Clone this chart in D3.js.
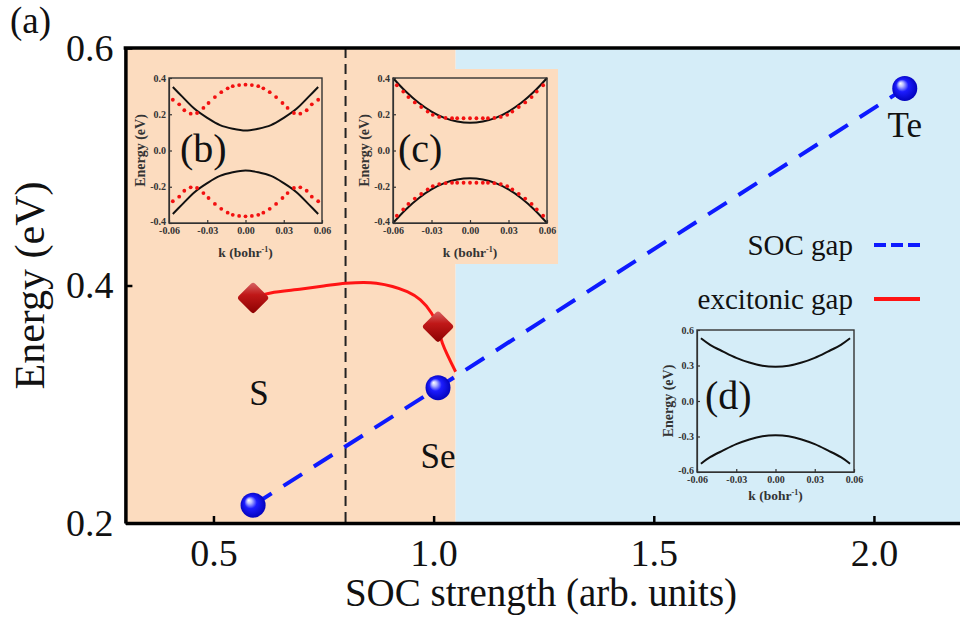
<!DOCTYPE html>
<html>
<head>
<meta charset="utf-8">
<script src="https://cdn.jsdelivr.net/npm/d3@7"></script>
<style>
  body { margin: 0; background: #fff; }
  text { font-family: "Liberation Serif", "Times New Roman", serif; }
</style>
</head>
<body>
<div id="chart"></div>
<script>
// ---- main panel (a) ----
var socX = [0.59, 1.01, 2.07];
var socGap = [0.215, 0.314, 0.566];
var elements = ["S", "Se", "Te"];

var excX = [0.59, 0.63, 0.70, 0.75, 0.80, 0.87, 0.94, 0.97, 0.995, 1.01, 1.02, 1.05];
var excGap = [0.3895, 0.3937, 0.397, 0.3995, 0.4019, 0.4019, 0.3948, 0.3878, 0.3768, 0.3653, 0.3513, 0.3274];
var diamondX = [0.59, 1.01];
var diamondGap = [0.3895, 0.3653];

var regionBreak = 1.05;   // weak / strong SOC boundary
var dashX = 0.8;          // vertical dashed marker
var xTicks = [0.5, 1.0, 1.5, 2.0];
var yTicks = [0.2, 0.4, 0.6];
var legendLabels = ["SOC gap", "excitonic gap"];

// ---- insets (b) (c) (d): band dispersions ----
var kTicks = [-0.06, -0.03, 0.00, 0.03, 0.06];
var kLine = [-0.057, -0.05, -0.04, -0.03, -0.02, -0.01, 0, 0.01, 0.02, 0.03, 0.04, 0.05, 0.057];
var kLineC = [-0.06, -0.05, -0.04, -0.03, -0.02, -0.01, 0, 0.01, 0.02, 0.03, 0.04, 0.05, 0.06];
var kDots = [-0.057, -0.052, -0.048, -0.043, -0.038, -0.033, -0.029, -0.024, -0.019, -0.014, -0.010, -0.005, 0,
             0.005, 0.010, 0.014, 0.019, 0.024, 0.029, 0.033, 0.038, 0.043, 0.048, 0.052, 0.057];

var bBlackUp = [0.35, 0.30, 0.23, 0.18, 0.14, 0.12, 0.11, 0.12, 0.14, 0.18, 0.23, 0.30, 0.35];
var bBlackDn = [-0.35, -0.30, -0.23, -0.18, -0.14, -0.12, -0.11, -0.12, -0.14, -0.18, -0.23, -0.30, -0.35];
var bRedUp = [0.28, 0.255, 0.222, 0.203, 0.207, 0.235, 0.262, 0.295, 0.322, 0.343, 0.355, 0.361, 0.363,
              0.361, 0.355, 0.343, 0.322, 0.295, 0.262, 0.235, 0.207, 0.203, 0.222, 0.255, 0.28];
var bRedDn = [-0.28, -0.255, -0.222, -0.203, -0.207, -0.235, -0.262, -0.295, -0.322, -0.343, -0.355, -0.361, -0.363,
              -0.361, -0.355, -0.343, -0.322, -0.295, -0.262, -0.235, -0.207, -0.203, -0.222, -0.255, -0.28];

var cBlackUp = [0.40, 0.325, 0.263, 0.215, 0.18, 0.16, 0.153, 0.16, 0.18, 0.215, 0.263, 0.325, 0.40];
var cBlackDn = [-0.40, -0.325, -0.263, -0.215, -0.18, -0.16, -0.153, -0.16, -0.18, -0.215, -0.263, -0.325, -0.40];
var cRedUp = [0.36, 0.325, 0.295, 0.265, 0.24, 0.215, 0.197, 0.185, 0.18, 0.178, 0.178, 0.178, 0.178,
              0.178, 0.178, 0.178, 0.18, 0.185, 0.197, 0.215, 0.24, 0.265, 0.295, 0.325, 0.36];
var cRedDn = [-0.36, -0.325, -0.295, -0.265, -0.24, -0.215, -0.197, -0.185, -0.18, -0.178, -0.178, -0.178, -0.178,
              -0.178, -0.178, -0.178, -0.18, -0.185, -0.197, -0.215, -0.24, -0.265, -0.295, -0.325, -0.36];

var dBlackUp = [0.53, 0.475, 0.418, 0.365, 0.325, 0.298, 0.29, 0.298, 0.325, 0.365, 0.418, 0.475, 0.53];
var dBlackDn = [-0.53, -0.475, -0.418, -0.365, -0.325, -0.298, -0.29, -0.298, -0.325, -0.365, -0.418, -0.475, -0.53];

var width = 960, height = 619;
var peach = "#fcdcbf", sky = "#d5edf8";

var svg = d3.select("#chart").append("svg")
  .attr("width", width).attr("height", height)
  .style("background", "#fff");

var x = d3.scaleLinear().domain([0.3, 2.2]).range([125.4, 962]);
var y = d3.scaleLinear().domain([0.2, 0.6]).range([523, 48]);

var defs = svg.append("defs");
var ball = defs.append("radialGradient").attr("id", "ball")
  .attr("cx", "50%").attr("cy", "50%").attr("r", "55%").attr("fx", "32%").attr("fy", "30%");
ball.append("stop").attr("offset", "0%").attr("stop-color", "#ffffff");
ball.append("stop").attr("offset", "18%").attr("stop-color", "#b8bcff");
ball.append("stop").attr("offset", "45%").attr("stop-color", "#1c1cff");
ball.append("stop").attr("offset", "100%").attr("stop-color", "#0000b4");
var cube = defs.append("linearGradient").attr("id", "cube")
  .attr("x1", "0%").attr("y1", "0%").attr("x2", "100%").attr("y2", "100%");
cube.append("stop").attr("offset", "0%").attr("stop-color", "#d86a6a");
cube.append("stop").attr("offset", "40%").attr("stop-color", "#c01818");
cube.append("stop").attr("offset", "100%").attr("stop-color", "#8a0000");

// background regions
svg.append("rect").attr("x", x(0.3)).attr("y", y(0.6))
  .attr("width", x(regionBreak) - x(0.3)).attr("height", y(0.2) - y(0.6)).style("fill", peach);
svg.append("rect").attr("x", x(regionBreak)).attr("y", y(0.6))
  .attr("width", x(2.2) - x(regionBreak)).attr("height", y(0.2) - y(0.6)).style("fill", sky);
// pasted inset (c) keeps its own peach card
svg.append("rect").attr("x", 350).attr("y", 69).attr("width", 208).attr("height", 195).style("fill", peach);

// dashed marker
svg.append("line")
  .attr("x1", x(dashX)).attr("x2", x(dashX)).attr("y1", y(0.6)).attr("y2", y(0.2))
  .style("stroke", "#222").style("stroke-width", 2).style("stroke-dasharray", "10,6");

var fmtLoc = d3.formatLocale({decimal: ".", thousands: ",", grouping: [3], currency: ["", ""], minus: "-"});

function inset(o) {
  var g = svg.append("g");
  var kx = d3.scaleLinear().domain([-0.06, 0.06]).range([o.x0, o.x1]);
  var ey = d3.scaleLinear().domain([-o.ymax, o.ymax]).range([o.y1, o.y0]);
  var band = d3.line().x(function(d){ return kx(d[0]); }).y(function(d){ return ey(d[1]); })
    .curve(d3.curveCatmullRom);

  o.lines.forEach(function(vals){
    g.append("path").datum(d3.zip(o.k, vals)).attr("d", band)
      .style("fill", "none").style("stroke", "#111").style("stroke-width", 2);
  });
  (o.dots || []).forEach(function(vals){
    g.selectAll(null).data(d3.zip(kDots, vals)).enter().append("circle")
      .attr("cx", function(d){ return kx(d[0]); })
      .attr("cy", function(d){ return ey(d[1]); })
      .attr("r", 1.9).style("fill", "#f21010");
  });

  var ax = g.append("g").attr("transform", "translate(0," + o.y1 + ")")
    .call(d3.axisBottom(kx).tickValues(kTicks).tickSizeInner(-3).tickSizeOuter(0)
      .tickPadding(4).tickFormat(fmtLoc.format(".2f")));
  var ay = g.append("g").attr("transform", "translate(" + o.x0 + ",0)")
    .call(d3.axisLeft(ey).tickValues(o.yTicks).tickSizeInner(-3).tickSizeOuter(0)
      .tickPadding(3).tickFormat(fmtLoc.format(".1f")));
  [ax, ay].forEach(function(a){
    a.attr("font-family", null).attr("font-size", null);
    a.selectAll("path,line").style("stroke", "#333").style("stroke-width", 1.2);
    a.selectAll("text").style("font-size", "10px").style("font-weight", "bold").style("fill", "#333");
  });
  // lift the lowest energy label a touch so it clears the k labels
  ay.selectAll(".tick text").filter(function(d){ return d === -o.ymax; }).attr("dy", "0.1em");
  g.append("rect").attr("x", o.x0).attr("y", o.y0)
    .attr("width", o.x1 - o.x0).attr("height", o.y1 - o.y0)
    .style("fill", "none").style("stroke", "#333").style("stroke-width", 1.4);

  var kt = g.append("text").attr("x", (o.x0 + o.x1) / 2).attr("y", o.y1 + o.kdy)
    .attr("text-anchor", "middle").style("font-size", "13.5px").style("font-weight", "bold").style("fill", "#333");
  kt.append("tspan").text("k (bohr");
  kt.append("tspan").attr("dy", -5).style("font-size", "8px").text("-1");
  kt.append("tspan").attr("dy", 5).text(")");

  g.append("text")
    .attr("transform", "translate(" + (o.x0 - o.edx) + "," + ((o.y0 + o.y1) / 2) + ") rotate(-90)")
    .attr("text-anchor", "middle").style("font-size", "14px").style("font-weight", "bold").style("fill", "#333")
    .text("Energy (eV)");

  g.append("text").attr("x", o.lx).attr("y", o.ly)
    .style("font-size", "40px").style("fill", "#111").text(o.label);
}

inset({x0: 169, x1: 322, y0: 78, y1: 223, ymax: 0.4, yTicks: [-0.4, -0.2, 0, 0.2, 0.4],
  k: kLine, lines: [bBlackUp, bBlackDn], dots: [bRedUp, bRedDn],
  kdy: 34, edx: 24, label: "(b)", lx: 180, ly: 162});
inset({x0: 393, x1: 547, y0: 78, y1: 223, ymax: 0.4, yTicks: [-0.4, -0.2, 0, 0.2, 0.4],
  k: kLineC, lines: [cBlackUp, cBlackDn], dots: [cRedUp, cRedDn],
  kdy: 34, edx: 24, label: "(c)", lx: 398, ly: 162});
inset({x0: 697, x1: 854, y0: 330, y1: 472, ymax: 0.6, yTicks: [-0.6, -0.3, 0, 0.3, 0.6],
  k: kLine, lines: [dBlackUp, dBlackDn],
  kdy: 28, edx: 24, label: "(d)", lx: 705, ly: 409});

// SOC gap: dashed line through the three chalcogens
var soc = d3.zip(socX, socGap);
svg.append("path").datum(soc)
  .attr("d", d3.line().x(function(d){ return x(d[0]); }).y(function(d){ return y(d[1]); }))
  .style("fill", "none").style("stroke", "#0d1aff").style("stroke-width", 4)
  .style("stroke-dasharray", "22,14");

// excitonic gap
svg.append("path").datum(d3.zip(excX, excGap))
  .attr("d", d3.line().x(function(d){ return x(d[0]); }).y(function(d){ return y(d[1]); })
    .curve(d3.curveCatmullRom))
  .style("fill", "none").style("stroke", "#ff1414").style("stroke-width", 3);

svg.selectAll(".dia").data(d3.zip(diamondX, diamondGap)).enter().append("rect")
  .attr("class", "dia")
  .attr("x", -11.5).attr("y", -11.5).attr("width", 23).attr("height", 23).attr("rx", 3)
  .attr("transform", function(d){ return "translate(" + x(d[0]) + "," + y(d[1]) + ") rotate(45)"; })
  .style("fill", "url(#cube)");

svg.selectAll(".ball").data(soc).enter().append("circle")
  .attr("class", "ball")
  .attr("cx", function(d){ return x(d[0]); }).attr("cy", function(d){ return y(d[1]); })
  .attr("r", 12.5).style("fill", "url(#ball)");

var elOffset = [[6, -100], [0, 80], [0, 49]];
svg.selectAll(".el").data(elements).enter().append("text")
  .attr("class", "el")
  .attr("x", function(d, i){ return x(socX[i]) + elOffset[i][0]; })
  .attr("y", function(d, i){ return y(socGap[i]) + elOffset[i][1]; })
  .attr("text-anchor", "middle").style("font-size", "35px").style("fill", "#111")
  .text(function(d){ return d; });

// axes / frame
var xAxis = svg.append("g").attr("transform", "translate(0," + y(0.2) + ")")
  .call(d3.axisBottom(x).tickValues(xTicks).tickSizeInner(-7).tickSizeOuter(0)
    .tickPadding(16).tickFormat(d3.format(".1f")));
var yAxis = svg.append("g").attr("transform", "translate(" + x(0.3) + ",0)")
  .call(d3.axisLeft(y).tickValues(yTicks).tickSizeInner(-7).tickSizeOuter(0)
    .tickPadding(12).tickFormat(d3.format(".1f")));
[xAxis, yAxis].forEach(function(a){
  a.attr("font-family", null).attr("font-size", null);
  a.select(".domain").style("stroke", "#000").style("stroke-width", 3.5);
  a.selectAll(".tick line").style("stroke", "#000").style("stroke-width", 2.5);
  a.selectAll("text").style("font-size", "38px").style("fill", "#111");
});
svg.append("line").attr("x1", x(0.3) - 1.75).attr("x2", x(2.2)).attr("y1", y(0.6)).attr("y2", y(0.6))
  .style("stroke", "#000").style("stroke-width", 3.5);

svg.append("text").attr("x", 541).attr("y", 606).attr("text-anchor", "middle")
  .style("font-size", "39px").style("fill", "#111").text("SOC strength (arb. units)");
svg.append("text").attr("transform", "translate(44," + y(0.4) + ") rotate(-90)")
  .attr("text-anchor", "middle").style("font-size", "42px").style("fill", "#111").text("Energy (eV)");
svg.append("text").attr("x", 10).attr("y", 33).style("font-size", "37px").style("fill", "#111").text("(a)");

// legend
var legY = [245, 299];
var leg = svg.selectAll(".leg").data(legendLabels).enter().append("g")
  .attr("transform", function(d, i){ return "translate(0," + legY[i] + ")"; });
leg.append("text").attr("x", 853).attr("y", 10).attr("text-anchor", "end")
  .style("font-size", "29px").style("fill", "#111").text(function(d){ return d; });
leg.append("line").attr("x1", 874).attr("x2", 920).attr("y1", 0).attr("y2", 0)
  .style("stroke", function(d, i){ return i === 0 ? "#0d1aff" : "#ff1414"; })
  .style("stroke-width", 4)
  .style("stroke-dasharray", function(d, i){ return i === 0 ? "12,5" : null; });
</script>
</body>
</html>
